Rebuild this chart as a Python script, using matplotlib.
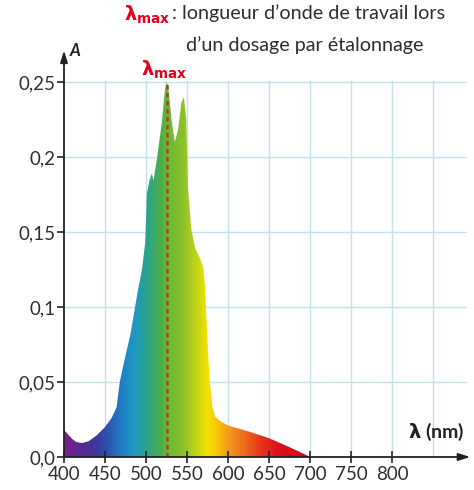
import numpy as np
import matplotlib.pyplot as plt
from matplotlib.colors import LinearSegmentedColormap

plt.rcParams['font.family'] = ['Lato', 'DejaVu Sans']
plt.rcParams['mathtext.fontset'] = 'dejavusans'

# absorption spectrum
wavelength = [400, 405, 410, 415, 422, 430, 440, 450, 458, 464, 468, 471, 476,
              481, 486, 490, 495, 499, 501, 504, 507, 509, 513, 519, 523, 525,
              527, 531, 535, 539, 543, 546, 549, 551, 555, 560, 566, 570, 572,
              574, 576, 578, 581, 584, 590, 600, 625, 650, 675, 700]
absorbance = [0.018, 0.015, 0.012, 0.010, 0.0093, 0.0105, 0.0145, 0.020, 0.026,
              0.033, 0.050, 0.058, 0.070, 0.082, 0.098, 0.111, 0.125, 0.143,
              0.176, 0.184, 0.189, 0.184, 0.198, 0.222, 0.245, 0.250, 0.247,
              0.225, 0.210, 0.218, 0.236, 0.240, 0.225, 0.180, 0.152, 0.139,
              0.132, 0.126, 0.112, 0.088, 0.064, 0.048, 0.033, 0.027, 0.024,
              0.021, 0.017, 0.0125, 0.0065, 0.0]
lambda_max = 525

x_ticks = [400, 450, 500, 550, 600, 650, 700, 750, 800]
x_grid = [450, 500, 550, 600, 650, 700, 750, 800, 850]
y_ticks = [0.0, 0.05, 0.1, 0.15, 0.2, 0.25]
y_labels = ['0,0', '0,05', '0,1', '0,15', '0,2', '0,25']

# colour of the fill along the wavelength
spec_stops = [400, 420, 440, 455, 470, 485, 500, 515, 525, 545, 560, 575, 585,
              600, 620, 640, 660, 700]
spec_colors = ['#7a1f8f', '#5a2a90', '#3a3a9c', '#2a58b2', '#1f80c6', '#1f98c4',
               '#28a38c', '#45ad52', '#6ab634', '#8cc22a', '#c2d21a', '#f4e400',
               '#f9c80a', '#f49a1c', '#ee6a1e', '#e6341c', '#e0101c', '#d4001a']

fig = plt.figure(figsize=(4.74, 4.9), dpi=100)
ax = fig.add_axes([64 / 474, 33 / 490, (467 - 64) / 474, (457 - 79.75) / 490])
ax.set_xlim(400, 891)
ax.set_ylim(0, 0.2515)

grid_col = '#c4e2ee'
ax.vlines(x_grid, 0, 0.2515, color=grid_col, lw=1.0, zorder=0)
ax.hlines(y_ticks[1:], 400, 891, color=grid_col, lw=1.0, zorder=0)

# gradient fill clipped to the spectrum
pos = [(s - 400) / 300 for s in spec_stops]
cmap = LinearSegmentedColormap.from_list('spec', list(zip(pos, spec_colors)))
grad = np.linspace(0, 1, 600).reshape(1, -1)
im = ax.imshow(grad, cmap=cmap, extent=[400, 700, 0, 0.26], aspect='auto',
               origin='lower', zorder=1, interpolation='bilinear')
verts = list(zip(wavelength, absorbance)) + [(700, 0), (400, 0)]
poly = plt.Polygon(verts, closed=True, facecolor='none', edgecolor='none')
ax.add_patch(poly)
im.set_clip_path(poly)

peak = absorbance[wavelength.index(lambda_max)]
ax.vlines(lambda_max, 0, peak, color='#9a4a1c', lw=1.8,
          linestyle=(0, (1.8, 1.4)), zorder=2)

for s in ['top', 'right', 'left', 'bottom']:
    ax.spines[s].set_visible(False)

arrow = dict(arrowstyle='-|>,head_length=0.7,head_width=0.22', color='#222222',
             lw=1.3, shrinkA=0, shrinkB=0)
ax.annotate('', xy=(400, 0.271), xytext=(400, 0), arrowprops=arrow,
            annotation_clip=False, zorder=3)
ax.annotate('', xy=(895, 0), xytext=(400, 0), arrowprops=arrow,
            annotation_clip=False, zorder=3)

ax.set_xticks(x_ticks)
ax.set_xticklabels([str(v) for v in x_ticks])
ax.set_yticks(y_ticks)
ax.set_yticklabels(y_labels)
ax.tick_params(axis='both', direction='out', length=5, width=1.2,
               color='#222222', labelsize=13.5, labelcolor='#2e2e2e', pad=1)
ax.tick_params(axis='x', direction='inout', length=8, pad=2.5)

ax.text(407, 0.2705, 'A', fontsize=12, fontweight='bold', fontstyle='italic',
        ha='left', va='center', color='#222222')
ax.text(888, 0.0165, r'$\mathbf{\lambda}$ (nm)', fontsize=14,
        fontweight='bold', ha='right', va='center', color='#222222')
ax.text(lambda_max - 3, 0.2505, r'$\mathbf{\lambda_{max}}$', fontsize=14,
        color='#e3001b', ha='center', va='bottom')

# legend text at the top
fig.text(171 / 474, 1 - 15 / 490, r'$\mathbf{\lambda_{max}}$', fontsize=14,
         color='#e3001b', ha='right', va='center')
fig.text(172 / 474, 1 - 13 / 490, ': longueur d’onde de travail lors',
         fontsize=14.2, color='#2e2e2e', ha='left', va='center')
fig.text(305 / 474, 1 - 45 / 490, 'd’un dosage par étalonnage',
         fontsize=14.2, color='#2e2e2e', ha='center', va='center')

fig.savefig('out.png', dpi=100)
